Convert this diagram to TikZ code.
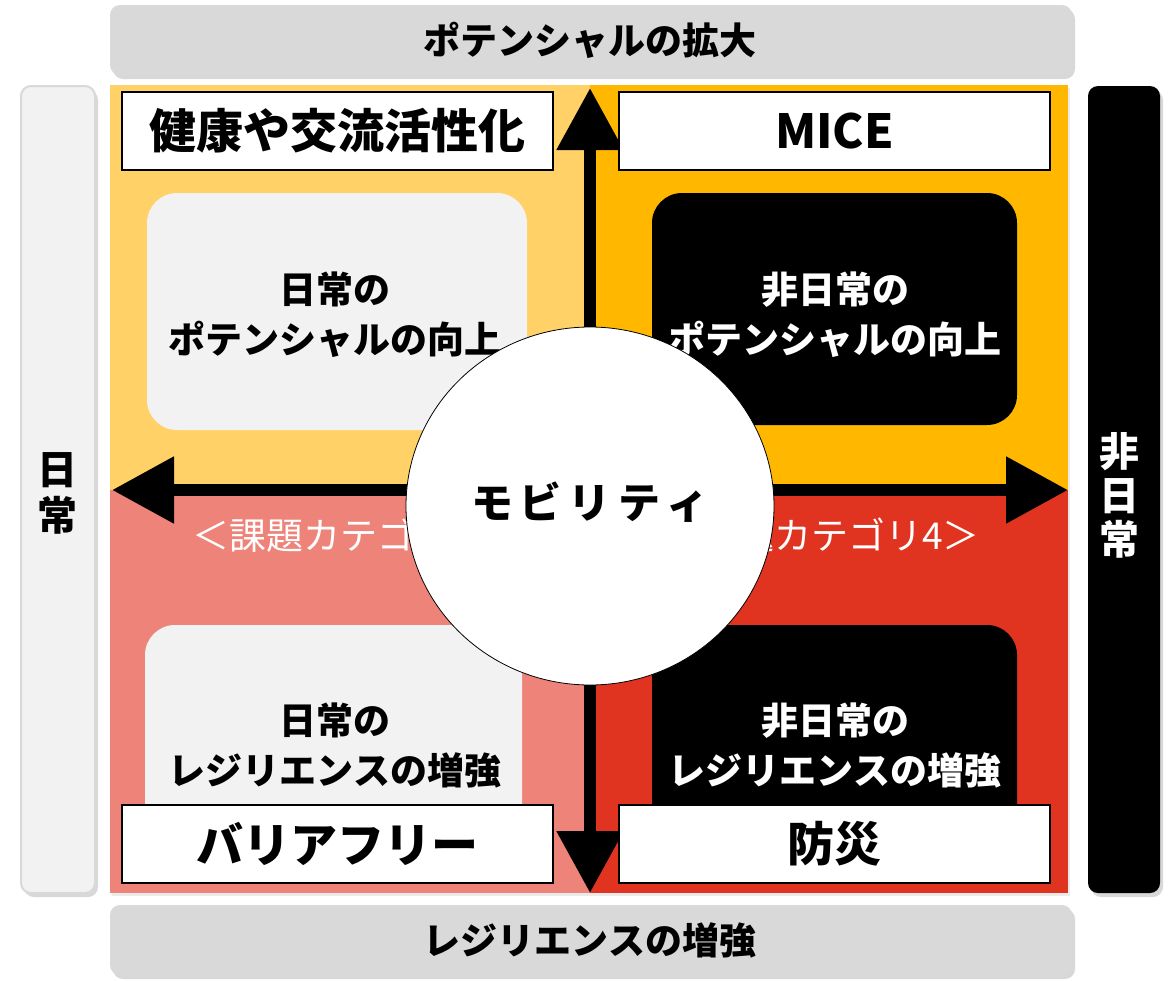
\documentclass[tikz,border=0pt]{standalone}
\usepackage{fontspec}
\setmainfont{Noto Sans CJK JP}
\usetikzlibrary{shadows,arrows.meta,shapes.geometric}
\definecolor{qTL}{HTML}{FFD166}
\definecolor{qTR}{HTML}{FFB700}
\definecolor{qBL}{HTML}{EE837A}
\definecolor{qBR}{HTML}{E03320}
\definecolor{barGray}{HTML}{D9D9D9}
\definecolor{paleGray}{HTML}{F2F2F2}
\tikzset{
  bar/.style={rounded corners=10pt, drop shadow={shadow xshift=3pt,shadow yshift=-4pt,opacity=0.3}},
  bartxt/.style={font=\fontsize{37}{45}\selectfont\bfseries, align=center},
  lbl/.style={draw=black, line width=1.5pt, fill=white, minimum width=431pt, minimum height=78pt, inner sep=0pt, font=\fontsize{47}{52}\selectfont\bfseries},
  card/.style={rounded corners=30pt},
  cardtxt/.style={font=\fontsize{37}{50}\selectfont\bfseries, align=center},
  cat/.style={font=\fontsize{37}{44}\selectfont, text=white, inner sep=0pt},
  axis/.style={line width=12pt, {Triangle[length=62pt,width=64pt]}-{Triangle[length=62pt,width=64pt]}},
}
\begin{document}
\begin{tikzpicture}[x=1pt,y=-1pt]
\useasboundingbox (0,0) rectangle (1170,980);
\fill[white] (0,0) rectangle (1170,980);
% quadrant block shadow (subtle)
\fill[black,opacity=0.08] (112,88) rectangle (1070,896);
% quadrants
\fill[qTL] (110,85) rectangle (590,490);
\fill[qTR] (590,85) rectangle (1068,490);
\fill[qBL] (110,490) rectangle (590,893);
\fill[qBR] (590,490) rectangle (1068,893);
% cards
\fill[card,paleGray] (147,193) rectangle (527,430);
\fill[card,black] (652,193) rectangle (1017,425);
\fill[card,paleGray] (145,625) rectangle (522,870);
\fill[card,black] (652,625) rectangle (1017,870);
\node[cardtxt] (tltxt) at (335,315) {日常の\\ポテンシャルの向上};
\node[cardtxt,text=white] (trtxt) at (835,315) {非日常の\\ポテンシャルの向上};
\node[cardtxt] (bltxt) at (335,745) {日常の\\レジリエンスの増強};
\node[cardtxt,text=white] (brtxt) at (835,745) {非日常の\\レジリエンスの増強};
% category texts
\node[cat,anchor=west] (catL) at (192,535) {＜課題カテゴリ3＞};
\node[cat,anchor=east] (catR) at (980,535) {＜課題カテゴリ4＞};
% axes
\coordinate (top) at (590,88);
\coordinate (bot) at (590,893);
\coordinate (lft) at (112,490);
\coordinate (rgt) at (1068,490);
\draw[axis] (top) -- (bot);
\draw[axis] (lft) -- (rgt);
% centre circle
\node[draw=black, line width=0.8pt, fill=white, ellipse, minimum width=368pt, minimum height=358pt, inner sep=0pt] (mob) at (590,506) {};
\path (mob.center) ++(0,-4) node[font=\fontsize{42}{48}\selectfont\bfseries] (mobtxt) {モ\,ビ\,リ\,テ\,ィ};
% label boxes
\node[lbl] (l1) at (337.5,131) {健康や交流活性化};
\node[lbl] (l2) at (834.5,131) {MICE};
\node[lbl] (l3) at (337.5,844) {バリアフリー};
\node[lbl] (l4) at (834.5,844) {防災};
% bars
\fill[bar,barGray] (110,5) rectangle (1072,75);
\node[bartxt] (toptxt) at (590,40) {ポテンシャルの拡大};
\fill[bar,barGray] (110,905) rectangle (1072,975);
\node[bartxt] (bottxt) at (590,940) {レジリエンスの増強};
\filldraw[bar,fill=paleGray,draw=barGray,line width=2pt] (21,86) rectangle (95,893);
\node[bartxt,font=\fontsize{40}{46}\selectfont\bfseries] (lefttxt) at (57,493) {日\\常};
\fill[bar,black] (1088,86) rectangle (1160,893);
\node[bartxt,text=white,font=\fontsize{40}{44}\selectfont\bfseries] (righttxt) at (1119,495) {非\\日\\常};
\end{tikzpicture}
\end{document}
